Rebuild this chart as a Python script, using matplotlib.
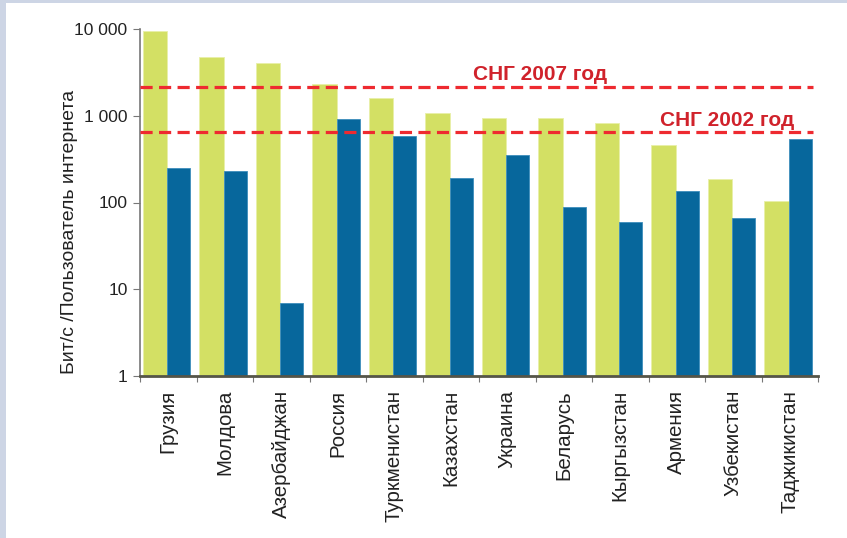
import numpy as np
import matplotlib.pyplot as plt
from matplotlib.patches import Rectangle

plt.rcParams['font.family'] = ['Liberation Sans', 'DejaVu Sans']

countries = ["Грузия", "Молдова", "Азербайджан", "Россия", "Туркменистан",
             "Казахстан", "Украина", "Беларусь", "Кыргызстан", "Армения",
             "Узбекистан", "Таджикистан"]
green_vals = [9480, 4760, 4050, 2330, 1600, 1070, 940, 940, 825, 460, 186, 104]
blue_vals = [250, 231, 6.9, 920, 580, 190, 350, 89, 59, 135, 66, 540]
cis_2007 = 2160
cis_2002 = 653

green = "#d3e064"
blue = "#07679c"
red_line = "#ee2a30"
red_text = "#d0222b"
axis_col = "#777777"

fig = plt.figure(figsize=(8.47, 5.38), dpi=100)
fig.patch.set_facecolor("white")
# light frame on the left and top
fig.patches.append(Rectangle((0, 0), 6 / 847, 1, transform=fig.transFigure,
                             facecolor="#cdd5e5", edgecolor="none"))
fig.patches.append(Rectangle((0, 1 - 3 / 538), 1, 3 / 538, transform=fig.transFigure,
                             facecolor="#cdd5e5", edgecolor="none"))

ax = fig.add_axes([140 / 847, 1 - 376 / 538, (818 - 140) / 847, (376 - 29) / 538])
x = np.arange(len(countries))
ax.bar(x + 0.045, green_vals, width=0.44, align="edge", color=green,
       edgecolor="#e8efa8", linewidth=0.6, zorder=2)
ax.bar(x + 0.485, blue_vals, width=0.40, align="edge", color=blue,
       edgecolor="#3d8dbc", linewidth=0.6, zorder=2)

ax.set_yscale("log")
ax.set_ylim(1, 10000)
ax.set_xlim(0, len(countries))
ax.set_yticks([1, 10, 100, 1000, 10000])
ax.set_yticklabels(["1", "10", "100", "1 000", "10 000"], fontsize=12.5, color="#222222")
ax.yaxis.set_minor_locator(plt.NullLocator())

ax.set_xticks(np.arange(len(countries) + 1))
ax.set_xticklabels([])
ax.set_xticks(x + 0.5, minor=True)
ax.set_xticklabels(countries, minor=True, rotation=90, fontsize=14.8, color="#222222",
                   va="top", ha="center")
ax.tick_params(axis="x", which="minor", length=0, pad=10)
ax.tick_params(axis="x", which="major", length=4, color=axis_col, direction="out")
ax.tick_params(axis="y", length=5, color=axis_col, direction="out", pad=4)

for s in ["top", "right"]:
    ax.spines[s].set_visible(False)
ax.spines["left"].set_color(axis_col)
ax.spines["left"].set_linewidth(1.2)
ax.spines["bottom"].set_color("#555548")
ax.spines["bottom"].set_linewidth(2)

ax.plot([0, 11.91], [cis_2007, cis_2007], color=red_line, lw=2.3,
        dashes=(3.8, 2), zorder=3, solid_capstyle="butt")
ax.plot([0, 11.91], [cis_2002, cis_2002], color=red_line, lw=2.3,
        dashes=(3.8, 2), zorder=3, solid_capstyle="butt")
ax.text(5.89, 2580, "СНГ 2007 год", color=red_text, fontsize=15, fontweight="bold",
        ha="left", va="baseline", zorder=4)
ax.text(9.20, 762, "СНГ 2002 год", color=red_text, fontsize=15, fontweight="bold",
        ha="left", va="baseline", zorder=4)

fig.text(70 / 847, 1 - 232 / 538, "Бит/с /Пользователь интернета", rotation=90,
         fontsize=14, color="#222222", ha="center", va="center")

fig.savefig("out.png", dpi=100)
